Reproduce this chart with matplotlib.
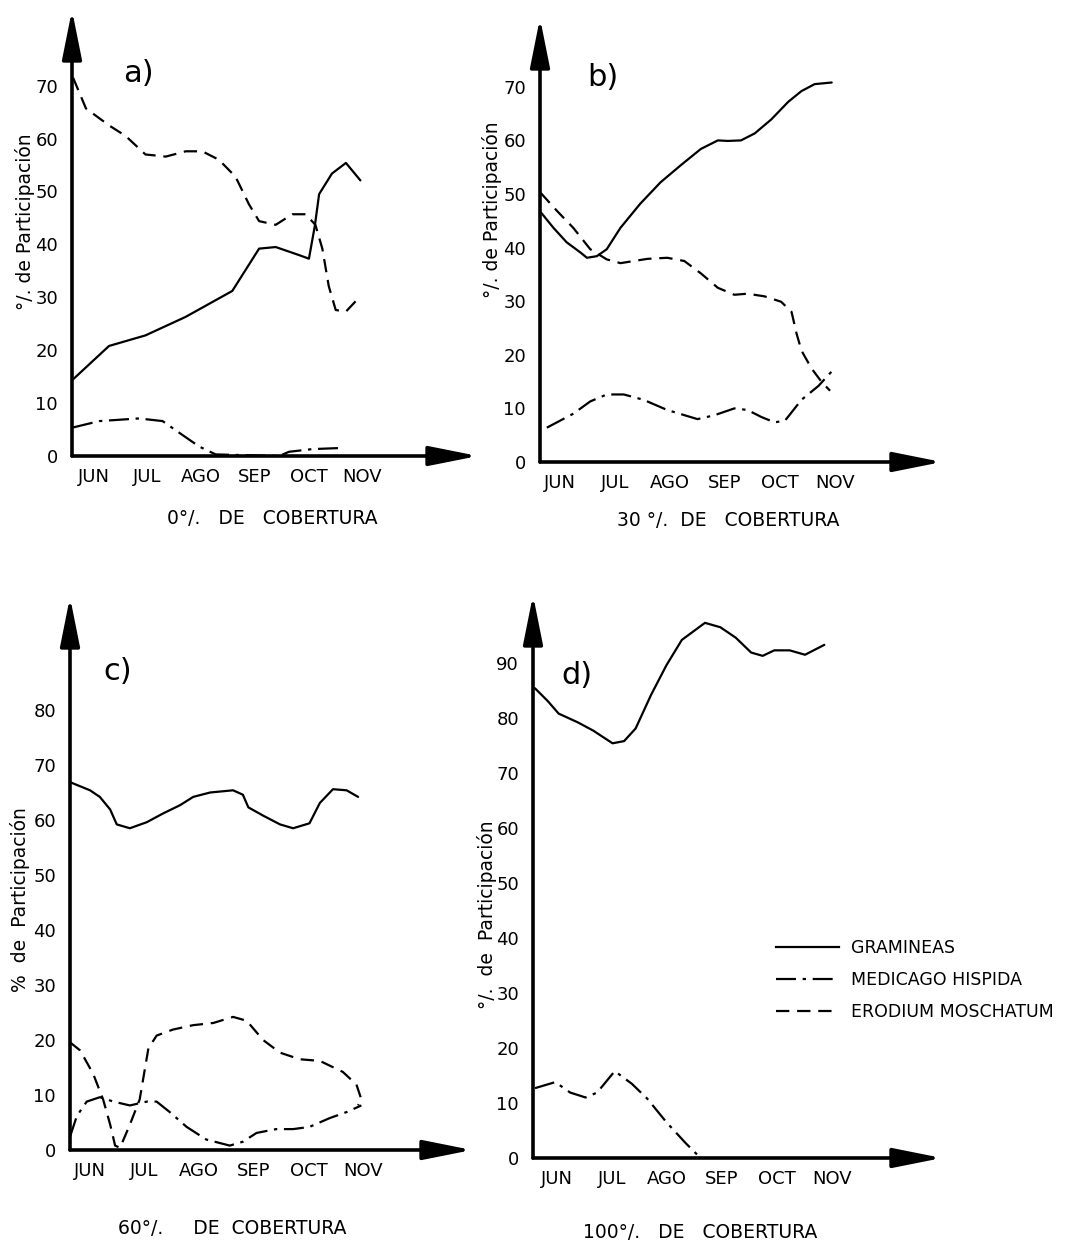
import matplotlib
matplotlib.use("Agg")
import matplotlib.pyplot as plt

plt.rcParams['font.family'] = ['DejaVu Sans']

MONTHS = ["JUN", "JUL", "AGO", "SEP", "OCT", "NOV"]
SERIES = ["GRAMINEAS", "MEDICAGO HISPIDA", "ERODIUM MOSCHATUM"]

# month position: 0 = JUN ... 5 = NOV
# ---- a) 0 % cobertura
a_gram_x = [-0.39, 0.28, 0.96, 1.71, 2.58, 3.08, 3.39, 3.82, 4.01, 4.12, 4.20, 4.44, 4.70, 4.97]
a_gram_y = [14.5, 20.8, 22.8, 26.3, 31.2, 39.2, 39.5, 38.0, 37.3, 43.5, 49.5, 53.4, 55.4, 52.1]
a_med_x = [-0.39, 0.10, 0.84, 1.28, 1.59, 1.96, 2.27, 3.45, 3.64, 4.07, 4.57]
a_med_y = [5.4, 6.6, 7.1, 6.6, 4.4, 1.8, 0.3, 0.0, 0.8, 1.3, 1.5]
a_ero_x = [-0.39, -0.15, 0.28, 0.59, 0.96, 1.34, 1.71, 2.02, 2.33, 2.64, 2.89, 3.08, 3.39,
           3.70, 3.95, 4.13, 4.26, 4.38, 4.51, 4.70, 4.97]
a_ero_y = [71.5, 65.7, 62.5, 60.5, 57.0, 56.6, 57.6, 57.6, 56.0, 52.8, 47.6, 44.4, 43.7,
           45.7, 45.7, 43.7, 39.2, 32.1, 27.6, 27.3, 30.2]

# ---- b) 30 % cobertura
b_gram_x = [-0.35, -0.12, 0.12, 0.37, 0.49, 0.67, 0.85, 1.10, 1.46, 1.83, 2.20, 2.56, 2.87,
            3.05, 3.29, 3.54, 3.84, 4.15, 4.39, 4.63, 4.94]
b_gram_y = [46.6, 43.7, 41.0, 39.1, 38.1, 38.4, 39.7, 43.7, 48.2, 52.2, 55.4, 58.4, 60.0,
            59.9, 60.0, 61.3, 63.9, 67.2, 69.2, 70.5, 70.8]
b_med_x = [-0.24, 0.24, 0.55, 0.85, 1.16, 1.52, 1.95, 2.50, 2.80, 3.17, 3.41, 3.66, 3.90,
           4.09, 4.39, 4.70, 4.94]
b_med_y = [6.4, 9.0, 11.3, 12.6, 12.6, 11.6, 9.7, 8.0, 8.7, 10.0, 9.7, 8.4, 7.4,
           7.7, 11.6, 14.2, 16.9]
b_ero_x = [-0.35, -0.06, 0.24, 0.55, 0.85, 1.10, 1.59, 1.95, 2.26, 2.56, 2.87, 3.17, 3.41,
           3.72, 4.02, 4.21, 4.30, 4.39, 4.57, 4.76, 4.91]
b_ero_y = [50.2, 46.9, 43.7, 39.7, 37.8, 37.1, 37.9, 38.1, 37.5, 35.2, 32.5, 31.2, 31.4,
           30.9, 29.9, 28.0, 24.0, 20.8, 17.5, 14.9, 13.3]

# ---- c) 60 % cobertura
c_gram_x = [-0.37, 0.00, 0.18, 0.37, 0.49, 0.73, 1.04, 1.34, 1.65, 1.89, 2.20, 2.62, 2.80,
            2.90, 3.17, 3.48, 3.72, 4.02, 4.21, 4.45, 4.70, 4.91]
c_gram_y = [66.9, 65.4, 64.2, 61.9, 59.2, 58.5, 59.6, 61.2, 62.7, 64.2, 65.0, 65.4, 64.6,
            62.3, 60.8, 59.2, 58.5, 59.4, 63.1, 65.6, 65.4, 64.2]
c_med_x = [-0.37, -0.24, -0.06, 0.18, 0.43, 0.73, 1.04, 1.22, 1.46, 1.77, 2.13, 2.56, 2.80,
           3.05, 3.41, 3.72, 4.02, 4.39, 4.70, 4.97]
c_med_y = [2.3, 6.2, 8.8, 9.6, 8.8, 8.1, 8.8, 8.8, 6.9, 4.2, 1.9, 0.8, 1.5,
           3.1, 3.8, 3.8, 4.2, 5.8, 6.9, 8.1]
c_ero_x = [-0.37, -0.18, 0.06, 0.24, 0.37, 0.46, 0.55, 0.73, 0.91, 1.07, 1.22, 1.52, 1.89,
           2.26, 2.62, 2.87, 3.17, 3.48, 3.84, 4.21, 4.63, 4.88, 4.97, 4.91]
c_ero_y = [19.6, 18.1, 13.8, 9.2, 4.6, 0.8, 0.4, 4.6, 9.2, 18.5, 20.8, 21.9, 22.7,
           23.1, 24.2, 23.5, 20.0, 17.7, 16.5, 16.2, 14.2, 11.9, 9.2, 8.1]

# ---- d) 100 % cobertura
d_gram_x = [-0.40, -0.17, 0.03, 0.38, 0.66, 1.01, 1.22, 1.43, 1.71, 1.99, 2.27, 2.69, 2.97,
            3.25, 3.53, 3.74, 3.95, 4.23, 4.51, 4.86]
d_gram_y = [85.4, 83.1, 80.8, 79.2, 77.7, 75.4, 75.8, 78.1, 84.2, 89.6, 94.2, 97.3, 96.5,
            94.6, 91.9, 91.3, 92.3, 92.3, 91.5, 93.3]
d_med_x = [-0.40, -0.03, 0.24, 0.52, 0.73, 1.05, 1.36, 1.64, 1.99, 2.34, 2.59]
d_med_y = [12.7, 13.8, 11.9, 11.0, 11.9, 15.8, 13.5, 10.8, 6.5, 2.7, 0.2]

a_ticks = [0, 10, 20, 30, 40, 50, 60, 70]
b_ticks = [0, 10, 20, 30, 40, 50, 60, 70]
c_ticks = [0, 10, 20, 30, 40, 50, 60, 70, 80]
d_ticks = [0, 10, 20, 30, 40, 50, 60, 70, 80, 90]

W, H = 1081, 1244
fig = plt.figure(figsize=(W / 100, H / 100), dpi=100)
fig.patch.set_facecolor("white")

STY = {
    "GRAMINEAS": dict(ls="-"),
    "MEDICAGO HISPIDA": dict(ls=(0, (9, 3, 1.5, 3))),
    "ERODIUM MOSCHATUM": dict(ls=(0, (6, 3.5))),
}
LW = 1.6
FS = 13


def fx(px):
    return px / W


def fy(py):
    return 1 - py / H


def make_panel(x_axis_px, y_axis_px, x_end_px, y_top_px, px_per_month, m_first_px,
               px_per_unit, ticks, letter, letter_pos, caption, caption_pos,
               ylabel, ylabel_pos, series):
    ax = fig.add_axes([fx(x_axis_px), fy(y_axis_px),
                       (x_end_px - x_axis_px) / W, (y_axis_px - y_top_px) / H])
    m0 = (x_axis_px - m_first_px) / px_per_month
    m1 = m0 + (x_end_px - x_axis_px) / px_per_month
    ytop = (y_axis_px - y_top_px) / px_per_unit
    ax.set_xlim(m0, m1)
    ax.set_ylim(0, ytop)
    for s in ax.spines.values():
        s.set_visible(False)
    ax.set_facecolor("none")
    ax.set_xticks(range(len(MONTHS)))
    ax.set_xticklabels(MONTHS, fontsize=FS)
    ax.set_yticks(ticks)
    ax.set_yticklabels([str(t) for t in ticks], fontsize=FS)
    ax.tick_params(length=0, pad=10)
    ax.tick_params(axis="x", pad=9)
    arrow = dict(arrowstyle="-|>,head_length=1.5,head_width=0.3", lw=2.6,
                 color="black", shrinkA=0, shrinkB=0, mutation_scale=20)
    ax.annotate("", xy=(m1, 0), xytext=(m0, 0), arrowprops=arrow,
                annotation_clip=False)
    ax.annotate("", xy=(m0, ytop), xytext=(m0, 0), arrowprops=arrow,
                annotation_clip=False)
    for name, xs, ys in series:
        ax.plot(xs, ys, color="black", lw=LW, clip_on=False, label=name,
                solid_capstyle="round", **STY[name])
    fig.text(fx(letter_pos[0]), fy(letter_pos[1]), letter, fontsize=22,
             ha="center", va="center")
    fig.text(fx(caption_pos[0]), fy(caption_pos[1]), caption, fontsize=13.5,
             ha="center", va="center")
    fig.text(fx(ylabel_pos[0]), fy(ylabel_pos[1]), ylabel, fontsize=13.5,
             ha="center", va="center", rotation=90)
    return ax


make_panel(72, 456, 478, 10, 53.6, 94, 5.29, a_ticks, "a)", (138, 74),
           "0°/.   DE   COBERTURA", (272, 519), "°/. de Participación", (25, 222),
           [("GRAMINEAS", a_gram_x, a_gram_y),
            ("MEDICAGO HISPIDA", a_med_x, a_med_y),
            ("ERODIUM MOSCHATUM", a_ero_x, a_ero_y)])

make_panel(540, 462, 942, 18, 55.0, 560, 5.36, b_ticks, "b)", (603, 77),
           "30 °/.  DE   COBERTURA", (728, 520), "°/. de Participación", (492, 210),
           [("GRAMINEAS", b_gram_x, b_gram_y),
            ("MEDICAGO HISPIDA", b_med_x, b_med_y),
            ("ERODIUM MOSCHATUM", b_ero_x, b_ero_y)])

make_panel(70, 1150, 472, 597, 54.6, 90, 5.5, c_ticks, "c)", (118, 672),
           "60°/.     DE  COBERTURA", (232, 1228), "%  de  Participación", (20, 900),
           [("GRAMINEAS", c_gram_x, c_gram_y),
            ("MEDICAGO HISPIDA", c_med_x, c_med_y),
            ("ERODIUM MOSCHATUM", c_ero_x, c_ero_y)])

axd = make_panel(533, 1158, 942, 595, 55.0, 557, 5.5, d_ticks, "d)", (577, 675),
                 "100°/.   DE   COBERTURA", (700, 1233), "°/.  de  Participación", (487, 915),
                 [("GRAMINEAS", d_gram_x, d_gram_y),
                  ("MEDICAGO HISPIDA", d_med_x, d_med_y)])

handles = [plt.Line2D([], [], color="black", lw=LW, **STY[n]) for n in SERIES]
fig.legend(handles, SERIES, loc="upper left", bbox_to_anchor=(fx(776), fy(939)),
           bbox_transform=fig.transFigure, frameon=False, fontsize=12.5,
           handlelength=3.6, handletextpad=0.7, labelspacing=0.8, borderpad=0,
           borderaxespad=0)

fig.savefig("out.png", dpi=100, facecolor="white")
